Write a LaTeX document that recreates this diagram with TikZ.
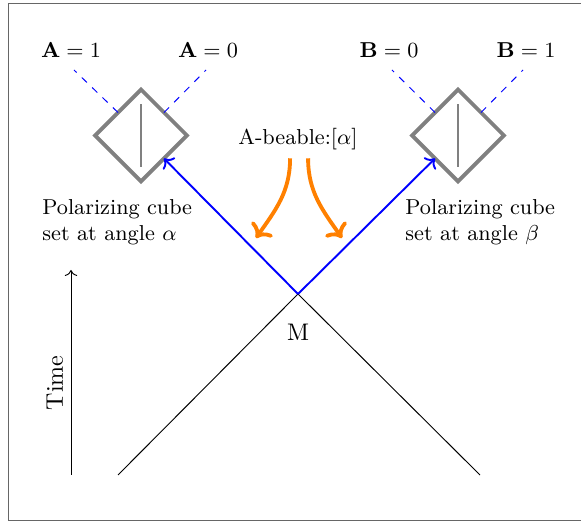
\documentclass[tikz,border=0pt]{standalone}
\usepackage{amsmath,amssymb}
\usepackage{xcolor}
\usepackage{tikz}
\usetikzlibrary{positioning,arrows.meta,shapes.geometric,calc}
\definecolor{cubegray}{RGB}{128,128,128}
\definecolor{beableorange}{RGB}{255,128,0}

\begin{document}
\begin{tikzpicture}[
  x=0.4167pt,y=0.4167pt,
  cube/.style={diamond,draw=cubegray,ultra thick,minimum width=38.3pt,minimum height=38.3pt,inner sep=0pt,outer sep=0pt},
  mirror/.style={cubegray,thick},
  outcome/.style={blue,dashed,thin},
  signal/.style={->,blue,thick},
  beable/.style={->,beableorange,ultra thick},
  cone/.style={black,thin},
  lbl/.style={font=\small,align=left,anchor=west},
]
\useasboundingbox (0,0) rectangle (581,523);
\draw[black!60,thin] (8,3) rectangle (590,520);
% light cone from the measurement event
\coordinate (M) at (298,229);
\coordinate (lc1) at (118,48);
\coordinate (lc2) at (480,48);
\draw[cone] (lc1)--(M)--(lc2);
\node (mlbl) at (298,191) {M};
% polarizing cubes
\node[cube] (cubeA) at (141,387.5) {};
\node[cube] (cubeB) at (458,387.5) {};
\draw[mirror] ([yshift=-13pt]cubeA.center)--([yshift=13pt]cubeA.center);
\draw[mirror] ([yshift=-13pt]cubeB.center)--([yshift=13pt]cubeB.center);
\draw[signal] (M)--(cubeA.south east);
\draw[signal] (M)--(cubeB.south west);
% outcomes
\node[font=\small] (a1) at (71,473) {$\mathbf{A}=1$};
\node[font=\small] (a0) at (208,473) {$\mathbf{A}=0$};
\node[font=\small] (b0) at (389,473) {$\mathbf{B}=0$};
\node[font=\small] (b1) at (526,473) {$\mathbf{B}=1$};
\coordinate (ea1) at (74,453); \coordinate (ea0) at (206,453);
\coordinate (eb0) at (392,453); \coordinate (eb1) at (523,453);
\draw[outcome] (cubeA.north west)--(ea1);
\draw[outcome] (cubeA.north east)--(ea0);
\draw[outcome] (cubeB.north west)--(eb0);
\draw[outcome] (cubeB.north east)--(eb1);
\node[lbl] (polA) at (34,301) {Polarizing cube\\set at angle $\alpha$};
\node[lbl] (polB) at (397,301) {Polarizing cube\\set at angle $\beta$};
% beable
\node[font=\small] (bea) at (298,384) {A-beable:[$\alpha$]};
\coordinate (bl) at (256,285); \coordinate (br) at (342,285);
\draw[beable] ([xshift=-3.3pt]bea.south) to[out=-90,in=55] (bl);
\draw[beable] ([xshift=4.2pt]bea.south) to[out=-90,in=125] (br);
% time axis
\coordinate (t0) at (71,48);
\coordinate (t1) at (71,253);
\draw[->,thin] (t0)--(t1);
\node[rotate=90] (time) at (55,140) {Time};
\end{tikzpicture}
\end{document}
